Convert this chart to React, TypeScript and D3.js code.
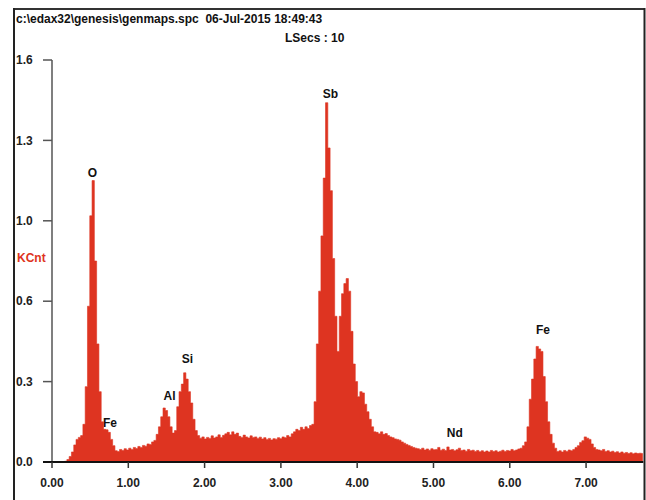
import React from "react";
import * as d3 from "d3";

const titleLine = "c:\\edax32\\genesis\\genmaps.spc  06-Jul-2015 18:49:43";
const subtitleLine = "LSecs : 10";
const yAxisLabel = "KCnt";

const channelStart = 0;
const channelStep = 0.03;
const counts = [
  0, 0, 0, 0, 0, 0, 0.003, 0.01, 0.022, 0.04,
  0.068, 0.09, 0.098, 0.105, 0.15, 0.3, 0.62, 0.98, 1.12, 0.8,
  0.47, 0.28, 0.16, 0.13, 0.128, 0.118, 0.09, 0.065, 0.045, 0.042,
  0.05, 0.046, 0.053, 0.048, 0.055, 0.05, 0.058, 0.054, 0.062, 0.058,
  0.066, 0.063, 0.072, 0.07, 0.08, 0.086, 0.11, 0.14, 0.18, 0.215,
  0.205, 0.18, 0.14, 0.115, 0.125, 0.22, 0.28, 0.31, 0.355, 0.33,
  0.28, 0.235, 0.17, 0.125, 0.105, 0.095, 0.1, 0.092, 0.098, 0.094,
  0.104, 0.096, 0.1, 0.108, 0.098, 0.106, 0.112, 0.118, 0.108, 0.12,
  0.11, 0.115, 0.102, 0.098, 0.107, 0.1, 0.096, 0.104, 0.098, 0.1,
  0.094, 0.099, 0.092, 0.097, 0.09, 0.094, 0.088, 0.093, 0.091, 0.097,
  0.093, 0.1, 0.097, 0.105, 0.1, 0.112, 0.12, 0.13, 0.125, 0.138,
  0.13, 0.14, 0.133, 0.145, 0.15, 0.24, 0.47, 0.68, 0.9, 1.13,
  1.43, 1.25, 1.08, 0.81, 0.58, 0.44, 0.58, 0.67, 0.71, 0.73,
  0.68, 0.52, 0.39, 0.32, 0.26, 0.28, 0.275, 0.23, 0.2, 0.17,
  0.14, 0.12, 0.118, 0.112, 0.12, 0.11, 0.113, 0.105, 0.1, 0.097,
  0.092, 0.09, 0.087, 0.08, 0.075, 0.07, 0.066, 0.062, 0.058, 0.055,
  0.053, 0.05, 0.055, 0.048, 0.052, 0.047, 0.053, 0.049, 0.05, 0.058,
  0.047, 0.051, 0.046, 0.06, 0.048, 0.05, 0.045, 0.049, 0.055, 0.046,
  0.048, 0.043, 0.05, 0.045, 0.047, 0.042, 0.046, 0.041, 0.045, 0.04,
  0.044, 0.04, 0.046, 0.042, 0.045, 0.04, 0.043, 0.047, 0.042, 0.046,
  0.044, 0.05, 0.045, 0.048, 0.052, 0.055, 0.065, 0.08, 0.14, 0.25,
  0.33, 0.41, 0.46, 0.45, 0.44, 0.34, 0.24, 0.16, 0.11, 0.075,
  0.055, 0.042, 0.045, 0.04, 0.046, 0.042, 0.048, 0.045, 0.05, 0.058,
  0.065, 0.078, 0.085, 0.1, 0.095, 0.09, 0.072, 0.058, 0.05, 0.048,
  0.045, 0.05, 0.042, 0.045, 0.04, 0.043, 0.038, 0.041, 0.036, 0.04,
  0.035, 0.038, 0.034, 0.037, 0.033, 0.036, 0.034, 0.035, 0.034,
];

const xTicks = [0, 1, 2, 3, 4, 5, 6, 7];
const xTickLabels = ["0.00", "1.00", "2.00", "3.00", "4.00", "5.00", "6.00", "7.00"];
const yTicks = [0, 0.32, 0.64, 0.96, 1.28, 1.6];
const yTickLabels = ["0.0", "0.3", "0.6", "1.0", "1.3", "1.6"];

const peakNames = ["O", "Fe", "Al", "Si", "Sb", "Nd", "Fe"];
const peakEnergies = [0.53, 0.76, 1.54, 1.776, 3.65, 5.28, 6.435];
const peakLabelLevels = [1.134, 0.139, 0.247, 0.394, 1.449, 0.0995, 0.509];

const W = 646;
const H = 500;
const FONT = "'Liberation Sans', Arial, sans-serif";
const RED = "#de3421";

export default function App() {
  const x = d3.scaleLinear().domain([0, 7.75]).range([52, 643.3]);
  const y = d3.scaleLinear().domain([0, 1.6]).range([462, 60]);

  const pts: [number, number][] = counts.map((c, i) => [channelStart + i * channelStep, c]);
  const area = d3
    .area<[number, number]>()
    .x((d) => x(d[0]))
    .y0(y(0))
    .y1((d) => y(d[1]))
    .curve(d3.curveStep);

  return (
    <svg
      width={W}
      height={H}
      style={{ position: "absolute", left: 0, top: 0, background: "#fff" }}
      fontFamily={FONT}
    >
      <rect x={0} y={0} width={W} height={H} fill="#fff" />
      {/* frame */}
      <line x1={14} y1={9} x2={644.5} y2={9} stroke="#333" strokeWidth={2} />
      <line x1={14} y1={8} x2={14} y2={H} stroke="#222" strokeWidth={2} />
      <line x1={644.5} y1={8} x2={644.5} y2={H} stroke="#222" strokeWidth={2} />

      {/* header */}
      <text x={16} y={23} fontSize={12} fontWeight="bold" fill="#111" style={{ whiteSpace: "pre" }}>
        {titleLine}
      </text>
      <text x={285} y={42} fontSize={12} fontWeight="bold" fill="#111" style={{ whiteSpace: "pre" }}>
        {subtitleLine}
      </text>

      {/* spectrum */}
      <defs>
        <clipPath id="plotClip">
          <rect x={52} y={40} width={643.3 - 52} height={423} />
        </clipPath>
      </defs>
      <path d={area(pts) || ""} fill={RED} stroke={RED} strokeWidth={0.6} clipPath="url(#plotClip)" />

      {/* y axis */}
      <line x1={52} y1={y(1.6)} x2={52} y2={y(0)} stroke="#555" strokeWidth={1.5} />
      {yTicks.map((t, i) => (
        <g key={"y" + i}>
          <line x1={43} x2={52} y1={y(t)} y2={y(t)} stroke="#555" strokeWidth={1.5} />
          <text x={16} y={y(t)} dy="0.35em" fontSize={12} fontWeight="bold" fill="#222">
            {yTickLabels[i]}
          </text>
        </g>
      ))}
      <text x={17} y={258} dy="0.35em" fontSize={12} fontWeight="bold" fill={RED}>
        {yAxisLabel}
      </text>

      {/* x axis */}
      <line x1={43} x2={643.3} y1={y(0)} y2={y(0)} stroke="#111" strokeWidth={2} />
      {xTicks.map((t, i) => (
        <g key={"x" + i}>
          <line x1={x(t)} x2={x(t)} y1={y(0)} y2={y(0) + 6} stroke="#333" strokeWidth={1.5} />
          <text x={x(t)} y={487} textAnchor="middle" fontSize={12} fontWeight="bold" fill="#222">
            {xTickLabels[i]}
          </text>
        </g>
      ))}

      {/* peak labels */}
      {peakNames.map((n, i) => (
        <text
          key={"p" + i}
          x={x(peakEnergies[i])}
          y={y(peakLabelLevels[i])}
          textAnchor="middle"
          fontSize={12}
          fontWeight="bold"
          fill="#111"
        >
          {n}
        </text>
      ))}
    </svg>
  );
}
